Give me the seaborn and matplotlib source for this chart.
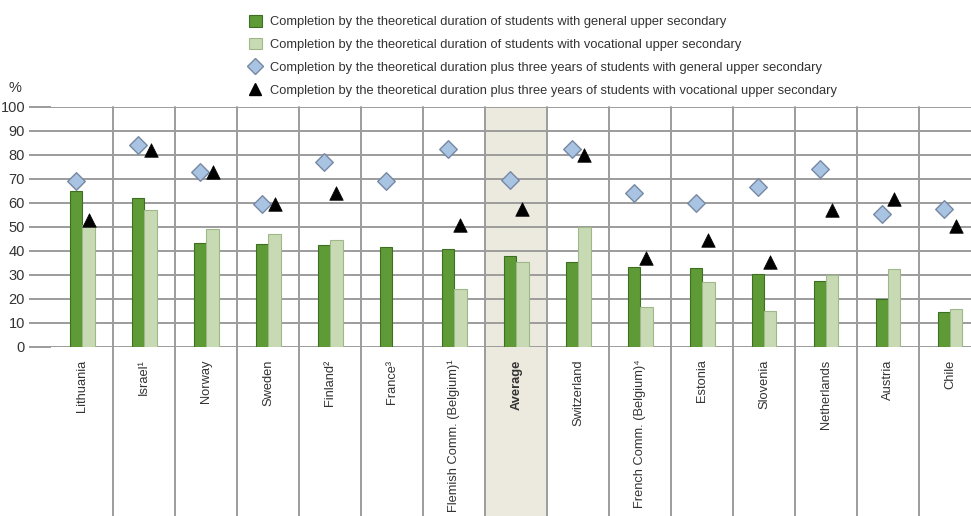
import numpy as np
import pandas as pd
import matplotlib
matplotlib.use("Agg")
import matplotlib.pyplot as plt
import seaborn as sns
from matplotlib.lines import Line2D
from matplotlib.patches import Patch

countries = ["Lithuania", "Israel¹", "Norway", "Sweden", "Finland²", "France³",
             "Flemish Comm. (Belgium)¹", "Average", "Switzerland",
             "French Comm. (Belgium)⁴", "Estonia", "Slovenia", "Netherlands",
             "Austria", "Chile"]
gen_theor = [65, 62, 43.5, 43, 42.5, 41.5, 41, 38, 35.5, 33.5, 33, 30.5, 27.5, 20, 14.5]
voc_theor = [51, 57, 49, 47, 44.5, np.nan, 24, 35.5, 50, 16.5, 27, 15, 30, 32.5, 16]
gen_plus3 = [69, 84, 73, 59.5, 77, 69, 82.5, 69.5, 82.5, 64, 60, 66.5, 74, 55.5, 57.5]
voc_plus3 = [53, 82, 73, 59.5, 64, np.nan, 51, 57.5, 80, 37, 44.5, 35.5, 57, 61.5, 50.5]
y_ticks = [0, 10, 20, 30, 40, 50, 60, 70, 80, 90, 100]

lab_gt = "Completion by the theoretical duration of students with general upper secondary"
lab_vt = "Completion by the theoretical duration of students with vocational upper secondary"
lab_gp = "Completion by the theoretical duration plus three years of students with general upper secondary"
lab_vp = "Completion by the theoretical duration plus three years of students with vocational upper secondary"

sns.set_theme(style="white")
FONT = ["Liberation Sans", "DejaVu Sans"]
plt.rcParams["font.family"] = FONT

DARK = "#5e9a36"
DARK_E = "#3d6f22"
LIGHT = "#c8dab3"
LIGHT_E = "#9fb88a"
DIAM = "#a9c3e2"
DIAM_E = "#7788a3"
GRID = "#9c9c9c"
TXT = "#333333"

W, H = 971, 516
fig = plt.figure(figsize=(W / 100, H / 100), dpi=100)
left, right, bottom, top = 51.4, 981.0, 347.0, 107.0
ax = fig.add_axes([left / W, (H - bottom) / H, (right - left) / W, (bottom - top) / H])

df = pd.DataFrame({
    "country": countries * 2,
    "value": gen_theor + voc_theor,
    "series": [lab_gt] * len(countries) + [lab_vt] * len(countries),
})

n = len(countries)
avg_idx = countries.index("Average")
ax.axvspan(avg_idx - 0.5, avg_idx + 0.5, ymin=-1.0, ymax=1.0, color="#ece9de",
           zorder=0, clip_on=False, lw=0)

sns.barplot(data=df, x="country", y="value", hue="series", order=countries,
            hue_order=[lab_gt, lab_vt], palette=[DARK, LIGHT], width=0.4,
            saturation=1, legend=False, ax=ax, zorder=3)
for cont, ec in zip(ax.containers, [DARK_E, LIGHT_E]):
    for p in cont:
        p.set_edgecolor(ec)
        p.set_linewidth(0.8)

pos = np.arange(n)
sns.scatterplot(x=pos - 0.1, y=gen_plus3, marker="D", s=80, color=DIAM,
                edgecolor=DIAM_E, linewidth=1.0, ax=ax, zorder=4, legend=False)
sns.scatterplot(x=pos + 0.1, y=voc_plus3, marker="^", s=95, color="black",
                edgecolor="black", linewidth=0.5, ax=ax, zorder=4, legend=False)

ax.set_xlim(-0.5, n - 0.5)
ax.set_ylim(0, 100)
ax.set_yticks(y_ticks)
ax.set_yticklabels([str(t) for t in y_ticks], fontsize=10.5, color=TXT)
ax.yaxis.grid(True, color=GRID, lw=1.4, zorder=1)
ax.set_axisbelow(True)
ax.tick_params(axis="y", length=16, width=1.4, color=GRID, pad=3, left=True)

for b in np.arange(0.5, n - 0.5, 1.0):
    ax.axvline(b, ymin=-1.0, ymax=1.0, color=GRID, lw=1.4, zorder=1, clip_on=False)

for s in ax.spines.values():
    s.set_visible(False)

ax.set_xticks(pos)
ax.set_xticklabels(countries, rotation=90, fontsize=9.3, color=TXT, va="top")
for t in ax.get_xticklabels():
    if t.get_text() == "Average":
        t.set_fontweight("bold")
ax.tick_params(axis="x", length=0, pad=9)
ax.set_xlabel("")
ax.set_ylabel("")

fig.text(15 / W, 1 - 88 / H, "%", fontsize=10.5, color=TXT, ha="center", va="center")

handles = [
    Patch(facecolor=DARK, edgecolor=DARK_E, lw=0.8, label=lab_gt),
    Patch(facecolor=LIGHT, edgecolor=LIGHT_E, lw=0.8, label=lab_vt),
    Line2D([], [], ls="none", marker="D", ms=8, mfc=DIAM, mec=DIAM_E, mew=1.0, label=lab_gp),
    Line2D([], [], ls="none", marker="^", ms=9, mfc="black", mec="black", label=lab_vp),
]
fig.legend(handles=handles, loc="upper left", bbox_to_anchor=(249 / W, 1 - 15 / H),
           frameon=False, fontsize=9.3, labelspacing=0.75, handlelength=1.0,
           handleheight=1.0, handletextpad=0.6, borderaxespad=0, borderpad=0,
           labelcolor=TXT)

fig.savefig("out.png", dpi=100)
